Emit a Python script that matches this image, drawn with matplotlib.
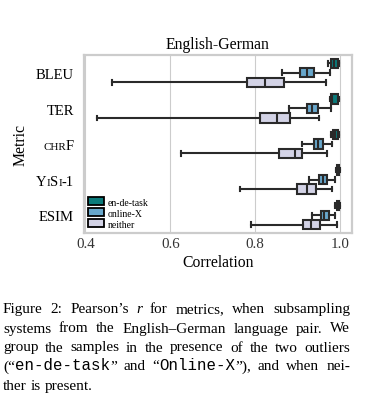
import matplotlib
matplotlib.use('Agg')
import matplotlib.pyplot as plt
from matplotlib.patches import Patch

metrics = ['BLEU', 'TER', 'chrF', 'YiSi-1', 'ESIM']
groups = ['en-de-task', 'online-X', 'neither']
colors = ['#0b7b7b', '#68a7cb', '#d3d3e6']

# five-number summaries (whisker low, q1, median, q3, whisker high)
en_de_task_lo = [0.971, 0.976, 0.978, 0.990, 0.989]
en_de_task_q1 = [0.978, 0.979, 0.984, 0.992, 0.992]
en_de_task_med = [0.985, 0.981, 0.989, 0.995, 0.995]
en_de_task_q3 = [0.994, 0.994, 0.994, 0.998, 0.998]
en_de_task_hi = [0.998, 0.997, 0.998, 0.999, 0.999]

online_x_lo = [0.864, 0.880, 0.910, 0.926, 0.933]
online_x_q1 = [0.905, 0.921, 0.939, 0.951, 0.955]
online_x_med = [0.922, 0.933, 0.949, 0.959, 0.962]
online_x_q3 = [0.939, 0.947, 0.960, 0.970, 0.974]
online_x_hi = [0.975, 0.979, 0.980, 0.989, 0.988]

neither_lo = [0.463, 0.426, 0.624, 0.765, 0.790]
neither_q1 = [0.780, 0.812, 0.856, 0.898, 0.912]
neither_med = [0.824, 0.852, 0.893, 0.923, 0.932]
neither_q3 = [0.867, 0.882, 0.911, 0.942, 0.953]
neither_hi = [0.967, 0.951, 0.970, 0.981, 0.992]

summaries = [
    (en_de_task_lo, en_de_task_q1, en_de_task_med, en_de_task_q3, en_de_task_hi),
    (online_x_lo, online_x_q1, online_x_med, online_x_q3, online_x_hi),
    (neither_lo, neither_q1, neither_med, neither_q3, neither_hi),
]

xticks = [0.4, 0.6, 0.8, 1.0]

# label pieces: (text, small caps?)
label_runs = {
    'BLEU': [('BLEU', False)],
    'TER': [('TER', False)],
    'chrF': [('CHR', True), ('F', False)],
    'YiSi-1': [('Y', False), ('I', True), ('S', False), ('I', True), ('-1', False)],
    'ESIM': [('ESIM', False)],
}

SERIF = 'Liberation Serif'
MONO = 'Liberation Mono'
edge = '#2a2a2a'
lw = 1.5

fig = plt.figure(figsize=(3.87, 4.06), dpi=100)
ax = fig.add_axes([84 / 387, 1 - 234 / 406, 268 / 387, 178 / 406])
renderer = fig.canvas.get_renderer()
W, H = fig.bbox.width, fig.bbox.height

hue_w = 0.8 / len(groups)
for g, (lo, q1, med, q3, hi) in enumerate(summaries):
    stats = []
    for i in range(len(metrics)):
        stats.append(dict(whislo=lo[i], q1=q1[i], med=med[i], q3=q3[i], whishi=hi[i], fliers=[]))
    pos = [i - 0.4 + hue_w * (g + 0.5) for i in range(len(metrics))]
    ax.bxp(stats, positions=pos, widths=hue_w * 0.98, vert=False, patch_artist=True,
           showfliers=False, manage_ticks=False,
           boxprops=dict(facecolor=colors[g], edgecolor=edge, linewidth=lw),
           whiskerprops=dict(color=edge, linewidth=lw),
           capprops=dict(color=edge, linewidth=lw),
           medianprops=dict(color=edge, linewidth=lw),
           capwidths=hue_w * 0.5, zorder=3)

ax.set_xlim(0.3965, 1.028)
ax.set_ylim(len(metrics) - 0.5, -0.5)
ax.set_xticks(xticks)
ax.set_xticklabels(['%.1f' % t for t in xticks], family=SERIF, fontsize=10.8, color='#333333')
ax.set_yticks(range(len(metrics)))
ax.set_yticklabels([''] * len(metrics))
ax.tick_params(length=0, pad=3)
ax.grid(axis='x', color='#cccccc', linewidth=0.8, zorder=0)
ax.set_axisbelow(True)
for s in ax.spines.values():
    s.set_color('#cccccc')
    s.set_linewidth(1.6)

ax.set_title('English-German', family=SERIF, fontsize=11.3, pad=5)
ax.set_xlabel('Correlation', family=SERIF, fontsize=11.3, labelpad=3)
ax.set_ylabel('Metric', family=SERIF, fontsize=11.3, labelpad=37)

handles = [Patch(facecolor=c, edgecolor='black', linewidth=1.3) for c in colors]
ax.legend(handles, groups, loc='lower left', frameon=False, prop=dict(family=SERIF, size=7),
          handlelength=1.65, handleheight=0.95, handletextpad=0.35, labelspacing=0.15,
          borderaxespad=0.2, borderpad=0.25)


def place_runs(x_px, y_px, runs, ha='left'):
    # runs: list of (text, kwargs); x_px, y_px in pixels from top-left
    texts = []
    widths = []
    for s, kw in runs:
        t = fig.text(0, 1 - y_px / H, s, va='baseline', ha='left', **kw)
        widths.append(t.get_window_extent(renderer).width)
        texts.append(t)
    total = sum(widths)
    x = x_px - total if ha == 'right' else x_px
    for t, w in zip(texts, widths):
        t.set_x(x / W)
        x += w
    return total


# y tick labels with small caps
for i, m in enumerate(metrics):
    ypix = 56 + 178 * (i + 0.5) / len(metrics) + 5.2
    runs = [(s, dict(family=SERIF, fontsize=7.9 if sc else 10.5)) for s, sc in label_runs[m]]
    place_runs(74, ypix, runs, ha='right')

# caption, justified
cap_font = dict(family=SERIF, fontsize=11.0)
it_font = dict(family=SERIF, fontsize=11.0, style='italic')
tt_font = dict(family=MONO, fontsize=11.3)
caption = [
    [[('Figure', cap_font)], [('2:', cap_font)], [('Pearson\u2019s', cap_font)], [('r', it_font)],
     [('for', cap_font)], [('metrics,', cap_font)], [('when', cap_font)], [('subsampling', cap_font)]],
    [[(w, cap_font)] for w in 'systems from the English\u2013German language pair.  We'.split()],
    [[(w, cap_font)] for w in 'group the samples in the presence of the two outliers'.split()],
    [[('(\u201c', cap_font), ('en-de-task', tt_font), ('\u201d', cap_font)], [('and', cap_font)],
     [('\u201c', cap_font), ('Online-X', tt_font), ('\u201d),', cap_font)], [('and', cap_font)],
     [('when', cap_font)], [('nei-', cap_font)]],
    [[(w, cap_font)] for w in 'ther is present.'.split()],
]
left, right = 3, 350
baselines = [313, 332.5, 351.5, 370.5, 390]
for li, (words, yb) in enumerate(zip(caption, baselines)):
    ws = []
    for word in words:
        tmp = [fig.text(0, 0, s, **kw) for s, kw in word]
        ws.append(sum(t.get_window_extent(renderer).width for t in tmp))
        for t in tmp:
            t.remove()
    if li < len(caption) - 1:
        gap = (right - left - sum(ws)) / (len(words) - 1)
    else:
        gap = 3.8
    x = left
    for word, w in zip(words, ws):
        place_runs(x, yb, word)
        x += w + gap

fig.savefig('out.png', dpi=100)
